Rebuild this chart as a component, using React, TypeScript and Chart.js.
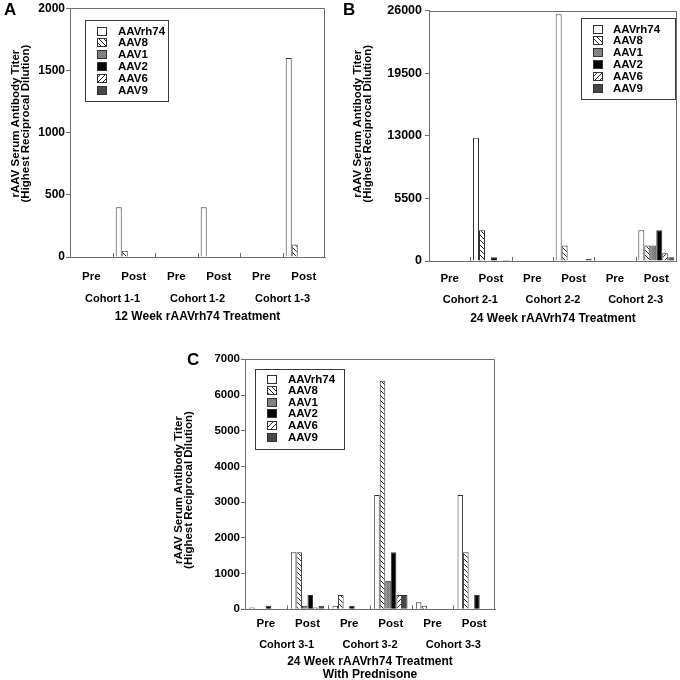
import React, { useEffect, useRef } from 'react';
import { Chart, registerables } from 'chart.js';

Chart.register(...registerables);

const FONT = '"Liberation Sans", Arial, Helvetica, sans-serif';
const AXIS = '#6e6e6e';

const SERIES_NAMES = ['AAVrh74', 'AAV8', 'AAV1', 'AAV2', 'AAV6', 'AAV9'];
const TIMEPOINTS = ['Pre', 'Post', 'Pre', 'Post', 'Pre', 'Post'];
const Y_TITLE = ['rAAV Serum Antibody Titer', '(Highest Reciprocal Dilution)'];

// ---- Panel A ----
const A_COHORTS = ['Cohort 1-1', 'Cohort 1-2', 'Cohort 1-3'];
const A_TREATMENT = ['12 Week rAAVrh74 Treatment'];
const A_Y_MAX = 2000;
const A_Y_STEP = 500;
const A_Y_TICKS = ['0', '500', '1000', '1500', '2000'];
const A_AAVRH74 = [0, 400, 0, 400, 0, 1600];
const A_AAV8 = [0, 50, 0, 0, 0, 100];
const A_AAV1 = [0, 0, 0, 0, 0, 0];
const A_AAV2 = [0, 0, 0, 0, 0, 0];
const A_AAV6 = [0, 0, 0, 0, 0, 0];
const A_AAV9 = [0, 0, 0, 0, 0, 0];

// ---- Panel B ----
const B_COHORTS = ['Cohort 2-1', 'Cohort 2-2', 'Cohort 2-3'];
const B_TREATMENT = ['24 Week rAAVrh74 Treatment'];
const B_Y_MAX = 26000;
const B_Y_STEP = 6500;
const B_Y_TICKS = ['0', '5500', '13000', '19500', '26000'];
const B_AAVRH74 = [0, 12800, 0, 25600, 0, 3200];
const B_AAV8 = [0, 3200, 0, 1600, 0, 1600];
const B_AAV1 = [0, 0, 0, 0, 0, 1600];
const B_AAV2 = [0, 400, 0, 0, 0, 3200];
const B_AAV6 = [0, 0, 0, 0, 0, 800];
const B_AAV9 = [0, 100, 0, 200, 0, 400];

// ---- Panel C ----
const C_COHORTS = ['Cohort 3-1', 'Cohort 3-2', 'Cohort 3-3'];
const C_TREATMENT = ['24 Week rAAVrh74 Treatment', 'With Prednisone'];
const C_Y_MAX = 7000;
const C_Y_STEP = 1000;
const C_Y_TICKS = ['0', '1000', '2000', '3000', '4000', '5000', '6000', '7000'];
const C_AAVRH74 = [50, 1600, 100, 3200, 200, 3200];
const C_AAV8 = [0, 1600, 400, 6400, 100, 1600];
const C_AAV1 = [0, 100, 0, 800, 0, 0];
const C_AAV2 = [100, 400, 100, 1600, 0, 400];
const C_AAV6 = [0, 50, 0, 400, 0, 0];
const C_AAV9 = [0, 100, 0, 400, 0, 0];

function hatch(ctx: CanvasRenderingContext2D, dir: 'back' | 'fwd') {
  const s = 5;
  const c = document.createElement('canvas');
  c.width = s;
  c.height = s;
  const g = c.getContext('2d')!;
  g.fillStyle = '#ffffff';
  g.fillRect(0, 0, s, s);
  g.strokeStyle = '#2a2a2a';
  g.lineWidth = 1;
  g.beginPath();
  if (dir === 'back') {
    g.moveTo(-1, -1); g.lineTo(s + 1, s + 1);
    g.moveTo(-1, s - 1); g.lineTo(1, s + 1);
    g.moveTo(s - 1, -1); g.lineTo(s + 1, 1);
  } else {
    g.moveTo(-1, s + 1); g.lineTo(s + 1, -1);
    g.moveTo(-1, 1); g.lineTo(1, -1);
    g.moveTo(s - 1, s + 1); g.lineTo(s + 1, s - 1);
  }
  g.stroke();
  return ctx.createPattern(c, 'repeat')!;
}

function stipple(ctx: CanvasRenderingContext2D) {
  const c = document.createElement('canvas');
  c.width = 2;
  c.height = 2;
  const g = c.getContext('2d')!;
  g.fillStyle = '#8e8e8e';
  g.fillRect(0, 0, 2, 2);
  g.fillStyle = '#767676';
  g.fillRect(0, 0, 1, 1);
  g.fillRect(1, 1, 1, 1);
  return ctx.createPattern(c, 'repeat')!;
}

const framePlugin = {
  id: 'frame',
  afterDatasetsDraw(chart: any, _args: any, opts: any) {
    const { ctx, chartArea: a, scales } = chart;
    ctx.save();
    ctx.strokeStyle = opts.color;
    ctx.lineWidth = 1;
    ctx.beginPath();
    const t = Math.round(a.top) + 0.5;
    const r = Math.round(a.right) - 0.5;
    ctx.moveTo(a.left, t);
    ctx.lineTo(r, t);
    ctx.lineTo(r, a.bottom);
    const x = scales.x;
    const n = x.ticks.length;
    for (let i = 1; i < n; i++) {
      const px = Math.round((x.getPixelForTick(i - 1) + x.getPixelForTick(i)) / 2) + 0.5;
      ctx.moveTo(px, a.bottom);
      ctx.lineTo(px, a.bottom - opts.tick);
    }
    ctx.stroke();
    ctx.restore();
  },
};

const yTitlePlugin = {
  id: 'yTitle',
  afterDraw(chart: any, _args: any, opts: any) {
    const { ctx, chartArea: a } = chart;
    const cy = (a.top + a.bottom) / 2 + opts.dy;
    ctx.save();
    ctx.font = `bold ${opts.size}px ${FONT}`;
    ctx.fillStyle = '#000000';
    ctx.textAlign = 'center';
    ctx.textBaseline = 'middle';
    (opts.lines as string[]).forEach((line, i) => {
      ctx.save();
      ctx.translate(opts.x + i * opts.gap, cy);
      ctx.rotate(-Math.PI / 2);
      ctx.fillText(line, 0, 0);
      ctx.restore();
    });
    ctx.restore();
  },
};

const boxLegendPlugin = {
  id: 'boxLegend',
  afterDraw(chart: any, _args: any, opts: any) {
    const { ctx, chartArea } = chart;
    const x0 = Math.round(chartArea.left + opts.x);
    const y0 = Math.round(chartArea.top + opts.y);
    ctx.save();
    ctx.fillStyle = '#ffffff';
    ctx.fillRect(x0, y0, opts.w, opts.h);
    ctx.strokeStyle = '#3a3a3a';
    ctx.lineWidth = 1;
    ctx.strokeRect(x0 + 0.5, y0 + 0.5, opts.w, opts.h);
    ctx.font = `bold ${opts.fontSize}px ${FONT}`;
    ctx.textBaseline = 'middle';
    ctx.textAlign = 'left';
    chart.data.datasets.forEach((ds: any, i: number) => {
      const cy = y0 + opts.firstRow + i * opts.rowH;
      const sx = Math.round(x0 + opts.swX);
      const sy = Math.round(cy - opts.swH / 2);
      ctx.fillStyle = ds.backgroundColor;
      ctx.fillRect(sx, sy, opts.swW, opts.swH);
      ctx.strokeStyle = '#333333';
      ctx.strokeRect(sx + 0.5, sy + 0.5, opts.swW - 1, opts.swH - 1);
      ctx.fillStyle = '#000000';
      ctx.fillText(ds.label, x0 + opts.textX, cy + 0.5);
    });
    ctx.restore();
  },
};

type PanelSpec = {
  letter: string;
  letterPos: [number, number];
  box: { left: number; top: number; w: number; h: number };
  series: number[][];
  cohorts: string[];
  treatment: string[];
  yMax: number;
  yStep: number;
  yTicks: string[];
  yTickSize: number;
  padT: number;
  padR: number;
  yW: number;
  xH: number;
  x2H: number;
  xPad: number;
  cohortPad: number;
  titlePadB: number;
  yTitle: { x: number; gap: number; dy: number; size: number };
  yTickPad: number;
  catPct: number;
  legend: any;
};

const PANELS: PanelSpec[] = [
  {
    letter: 'A',
    letterPos: [4, 1],
    box: { left: 0, top: 0, w: 340, h: 330 },
    series: [A_AAVRH74, A_AAV8, A_AAV1, A_AAV2, A_AAV6, A_AAV9],
    cohorts: A_COHORTS,
    treatment: A_TREATMENT,
    yMax: A_Y_MAX,
    yStep: A_Y_STEP,
    yTicks: A_Y_TICKS,
    yTickSize: 12,
    padT: 6,
    padR: 15,
    yW: 70,
    xH: 30,
    x2H: 43,
    xPad: 13,
    cohortPad: 5,
    titlePadB: 6,
    yTitle: { x: 16, gap: 10, dy: -9, size: 11.5 },
    yTickPad: 1,
    catPct: 0.85,
    legend: { x: 15, y: 12, w: 83, h: 81, swX: 12, swW: 10, swH: 9, textX: 33, firstRow: 11, rowH: 11.8, fontSize: 11.5 },
  },
  {
    letter: 'B',
    letterPos: [343, 1],
    box: { left: 340, top: 0, w: 340, h: 330 },
    series: [B_AAVRH74, B_AAV8, B_AAV1, B_AAV2, B_AAV6, B_AAV9],
    cohorts: B_COHORTS,
    treatment: B_TREATMENT,
    yMax: B_Y_MAX,
    yStep: B_Y_STEP,
    yTicks: B_Y_TICKS,
    yTickSize: 12.5,
    padT: 10,
    padR: 3,
    yW: 89,
    xH: 30,
    x2H: 39,
    xPad: 11,
    cohortPad: 2.4,
    titlePadB: 4.6,
    yTitle: { x: 17.5, gap: 10, dy: -12, size: 11.5 },
    yTickPad: 3,
    catPct: 0.87,
    legend: { x: 152, y: 7, w: 94, h: 81, swX: 12, swW: 10, swH: 9, textX: 32, firstRow: 11, rowH: 11.8, fontSize: 11.5 },
  },
  {
    letter: 'C',
    letterPos: [187, 351],
    box: { left: 150, top: 330, w: 370, h: 350 },
    series: [C_AAVRH74, C_AAV8, C_AAV1, C_AAV2, C_AAV6, C_AAV9],
    cohorts: C_COHORTS,
    treatment: C_TREATMENT,
    yMax: C_Y_MAX,
    yStep: C_Y_STEP,
    yTicks: C_Y_TICKS,
    yTickSize: 11.5,
    padT: 29.3,
    padR: 25,
    yW: 95,
    xH: 27,
    x2H: 43.7,
    xPad: 8,
    cohortPad: 2,
    titlePadB: -2,
    yTitle: { x: 29, gap: 10, dy: 5.7, size: 11.5 },
    yTickPad: 1,
    catPct: 0.8,
    legend: { x: 10, y: 10, w: 89, h: 80, swX: 12, swW: 10, swH: 9, textX: 33, firstRow: 10, rowH: 11.6, fontSize: 11.5 },
  },
];

function buildConfig(p: PanelSpec, ctx: CanvasRenderingContext2D): any {
  const fills: any[] = ['#ffffff', hatch(ctx, 'back'), stipple(ctx), '#000000', hatch(ctx, 'fwd'), '#474747'];
  const datasets = p.series.map((d, i) => ({
    label: SERIES_NAMES[i],
    data: d,
    backgroundColor: fills[i],
    borderColor: '#333333',
    borderWidth: 1,
    categoryPercentage: p.catPct,
    barPercentage: 1,
  }));
  return {
    type: 'bar',
    data: { labels: TIMEPOINTS, datasets },
    plugins: [framePlugin, yTitlePlugin, boxLegendPlugin],
    options: {
      responsive: false,
      maintainAspectRatio: false,
      animation: false,
      devicePixelRatio: 1,
      layout: { padding: { left: 0, top: p.padT, right: p.padR, bottom: 0 } },
      plugins: {
        legend: { display: false },
        tooltip: { enabled: false },
        frame: { color: AXIS, tick: 4 },
        yTitle: { ...p.yTitle, lines: Y_TITLE },
        boxLegend: p.legend,
      },
      scales: {
        x: {
          type: 'category',
          offset: true,
          grid: { display: false, drawTicks: false, offset: true },
          border: { display: true, color: AXIS, width: 1 },
          ticks: { color: '#000', font: { size: 11.5, weight: 'bold', family: FONT }, padding: p.xPad, maxRotation: 0, autoSkip: false },
          afterFit: (s: any) => { s.height = p.xH; },
        },
        x2: {
          type: 'category',
          axis: 'x',
          position: 'bottom',
          labels: p.cohorts,
          offset: true,
          grid: { display: false, drawTicks: false },
          border: { display: false },
          ticks: { color: '#000', font: { size: 11, weight: 'bold', family: FONT }, padding: p.cohortPad, maxRotation: 0, autoSkip: false },
          title: {
            display: true,
            text: p.treatment,
            color: '#000',
            font: { size: 12, weight: 'bold', family: FONT, lineHeight: 1.15 },
            padding: { top: 0, bottom: p.titlePadB },
          },
          afterFit: (s: any) => { s.height = p.x2H; },
        },
        y: {
          type: 'linear',
          position: 'left',
          min: 0,
          max: p.yMax,
          ticks: {
            stepSize: p.yStep,
            color: '#000',
            font: { size: p.yTickSize, weight: 'bold', family: FONT },
            padding: p.yTickPad,
            callback: (_v: any, i: number) => p.yTicks[i],
          },
          grid: { display: true, drawOnChartArea: false, drawTicks: true, tickLength: 4, color: AXIS },
          border: { display: true, color: AXIS, width: 1 },
          title: { display: false },
          afterFit: (s: any) => { s.width = p.yW; },
        },
      },
    },
  };
}

function Panel({ spec }: { spec: PanelSpec }) {
  const ref = useRef<HTMLCanvasElement>(null);
  useEffect(() => {
    const canvas = ref.current!;
    const ctx = canvas.getContext('2d')!;
    const chart = new Chart(ctx, buildConfig(spec, ctx));
    return () => chart.destroy();
  }, [spec]);
  const { left, top, w, h } = spec.box;
  return (
    <>
      <div style={{ position: 'absolute', left, top, width: w, height: h }}>
        <canvas ref={ref} width={w} height={h} style={{ width: w, height: h, display: 'block' }} />
      </div>
      <div
        style={{
          position: 'absolute',
          left: spec.letterPos[0],
          top: spec.letterPos[1],
          font: `bold 17px ${FONT}`,
          lineHeight: '17px',
          color: '#000',
        }}
      >
        {spec.letter}
      </div>
    </>
  );
}

export default function App() {
  return (
    <div
      style={{
        position: 'absolute',
        left: 0,
        top: 0,
        width: 680,
        height: 680,
        overflow: 'hidden',
        background: '#ffffff',
      }}
    >
      {PANELS.map((p) => (
        <Panel key={p.letter} spec={p} />
      ))}
    </div>
  );
}
